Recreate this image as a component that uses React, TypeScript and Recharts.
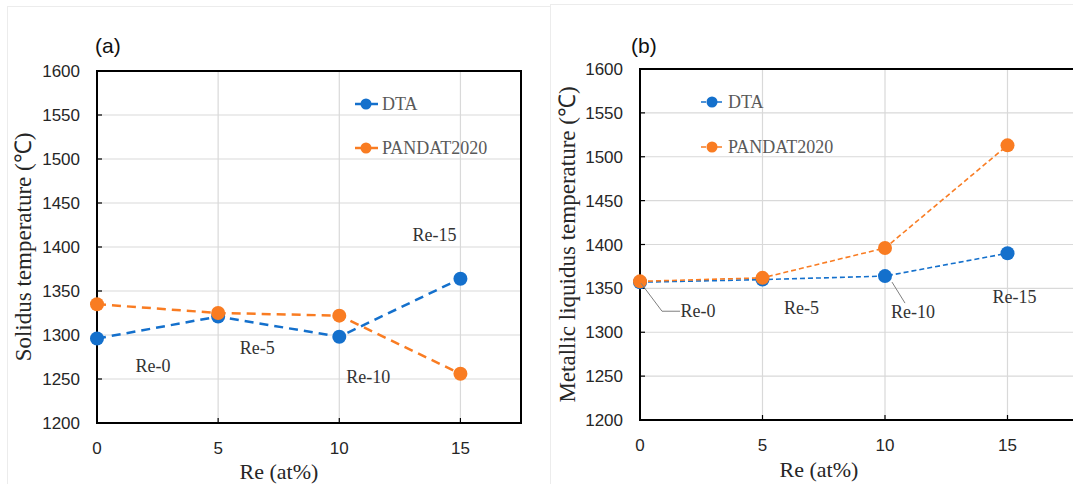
import React from 'react';
import { LineChart, Line, XAxis, YAxis, CartesianGrid, ReferenceArea, LabelList, Legend } from 'recharts';

// ---- data ----
const reContent = [0, 5, 10, 15];
const alloyNames = ['Re-0', 'Re-5', 'Re-10', 'Re-15'];
const solidusDTA = [1296, 1321, 1298, 1364];
const solidusPANDAT = [1335, 1325, 1322, 1256];
const liquidusDTA = [1357, 1360, 1364, 1390];
const liquidusPANDAT = [1358, 1362, 1396, 1513];
const xTicks = [0, 5, 10, 15];
const yTicks = [1200, 1250, 1300, 1350, 1400, 1450, 1500, 1550, 1600];
const seriesNames = ['DTA', 'PANDAT2020'];

const solidusData = reContent.map((re, i) => ({ re, dta: solidusDTA[i], pandat: solidusPANDAT[i], name: alloyNames[i] }));
const liquidusData = reContent.map((re, i) => ({ re, dta: liquidusDTA[i], pandat: liquidusPANDAT[i], name: alloyNames[i] }));

// ---- styles ----
const BLUE = '#1470CC';
const ORANGE = '#F97C22';
const COLORS = [BLUE, ORANGE];
const SERIF = "'Liberation Serif', 'Times New Roman', serif";
const SANS = "'Liberation Sans', Arial, sans-serif";

const leftLabelOffsets = [[56, 27], [39, 31], [29, 40], [-26, -44]];
const rightLabelOffsets = [[58, 29], [39, 28], [28, 36], [7, 44]];
const rightLeaders: (number[][] | null)[] = [[[1, 1], [22, 29], [40, 29]], null, [[7, 6], [20, 27]], null];

const makeLabel = (offsets: number[][], leaders?: (number[][] | null)[]) => (props: any) => {
  const { x, y, value } = props;
  const i = alloyNames.indexOf(value);
  if (i < 0 || x == null || y == null) return null;
  const [dx, dy] = offsets[i];
  const leader = leaders ? leaders[i] : null;
  return (
    <g>
      {leader && (
        <polyline
          points={leader.map(([a, b]) => `${x + a},${y + b}`).join(' ')}
          fill="none"
          stroke="#7f7f7f"
          strokeWidth={1}
        />
      )}
      <text x={x + dx} y={y + dy} textAnchor="middle" dominantBaseline="central" fontFamily={SERIF} fontSize={18} fill="#333">
        {value}
      </text>
    </g>
  );
};

const makeLegend = (dashed: boolean, rows: number[]) => () => (
  <svg width={200} height={80} style={{ overflow: 'visible', display: 'block' }}>
    {seriesNames.map((n, i) => (
      <g key={n}>
        <line x1={5} x2={28} y1={rows[i]} y2={rows[i]} stroke={COLORS[i]} strokeWidth={dashed ? 1.5 : 2.5} strokeDasharray={dashed ? '5 3' : undefined} />
        <circle cx={16} cy={rows[i]} r={5.5} fill={COLORS[i]} />
        <text x={32} y={rows[i]} dominantBaseline="central" fontFamily={SERIF} fontSize={18} fill="#595959">
          {n}
        </text>
      </g>
    ))}
  </svg>
);

const tickStyle = { fontFamily: SANS, fontSize: 17, fill: '#262626' };

export default function App() {
  return (
    <div style={{ position: 'absolute', left: 0, top: 0, width: 1073, height: 484, overflow: 'hidden', background: '#fff' }}>
      <div style={{ position: 'absolute', left: 7, top: 6, width: 542, height: 500, border: '1px solid #ececec' }} />
      <div style={{ position: 'absolute', left: 550, top: 4, width: 600, height: 500, border: '1px solid #ececec' }} />

      <div style={{ position: 'absolute', left: 95, top: 34, fontFamily: SANS, fontSize: 21, lineHeight: '24px', color: '#111' }}>(a)</div>
      <div style={{ position: 'absolute', left: 631, top: 34, fontFamily: SANS, fontSize: 21, lineHeight: '24px', color: '#111' }}>(b)</div>

      {/* Left chart: solidus */}
      <div style={{ position: 'absolute', left: 0, top: 0 }}>
        <LineChart width={540} height={484} data={solidusData} margin={{ top: 71, right: 19, bottom: 0, left: 13 }}>
          <CartesianGrid stroke="#d9d9d9" strokeWidth={1.2} />
          <XAxis
            dataKey="re"
            type="number"
            domain={[0, 17.5]}
            ticks={xTicks}
            height={61}
            tickSize={-5}
            tickMargin={24}
            tick={tickStyle}
            axisLine={{ stroke: '#000', strokeWidth: 2 }}
            tickLine={{ stroke: '#000', strokeWidth: 1.2 }}
            label={{ value: 'Re (at%)', position: 'insideBottom', offset: 5, dx: -30, style: { fontFamily: SERIF, fontSize: 22, fill: '#262626' } }}
          />
          <YAxis
            type="number"
            domain={[1200, 1600]}
            ticks={yTicks}
            width={84}
            tickSize={-5}
            tickMargin={22}
            tick={tickStyle}
            axisLine={{ stroke: '#000', strokeWidth: 2 }}
            tickLine={{ stroke: '#000', strokeWidth: 1.2 }}
            label={{ value: 'Solidus temperature (℃)', angle: -90, position: 'insideLeft', offset: 10, style: { textAnchor: 'middle', fontFamily: SERIF, fontSize: 23, fill: '#262626' } }}
          />
          <ReferenceArea x1={0} x2={17.5} y1={1200} y2={1600} fill="none" stroke="#000" strokeWidth={2} ifOverflow="visible" />
          <Legend layout="vertical" align="center" verticalAlign="middle" wrapperStyle={{ left: 350, top: 90, width: 200, height: 80 }} content={makeLegend(false, [14, 58])} />
          <Line
            name="DTA"
            dataKey="dta"
            type="linear"
            stroke={BLUE}
            strokeWidth={2.5}
            strokeDasharray="9 6"
            dot={{ r: 7, fill: BLUE, stroke: BLUE, strokeWidth: 0 }}
            activeDot={false}
            isAnimationActive={false}
          >
            <LabelList dataKey="name" content={makeLabel(leftLabelOffsets)} />
          </Line>
          <Line
            name="PANDAT2020"
            dataKey="pandat"
            type="linear"
            stroke={ORANGE}
            strokeWidth={2.5}
            strokeDasharray="9 6"
            dot={{ r: 7, fill: ORANGE, stroke: ORANGE, strokeWidth: 0 }}
            activeDot={false}
            isAnimationActive={false}
          />
        </LineChart>
      </div>

      {/* Right chart: metallic liquidus */}
      <div style={{ position: 'absolute', left: 540, top: 0 }}>
        <LineChart width={600} height={484} data={liquidusData} margin={{ top: 69, right: 10, bottom: 0, left: 17 }}>
          <CartesianGrid stroke="#d9d9d9" strokeWidth={1.2} />
          <XAxis
            dataKey="re"
            type="number"
            domain={[0, 20]}
            ticks={xTicks}
            height={64}
            tickSize={-5}
            tickMargin={24}
            tick={tickStyle}
            axisLine={{ stroke: '#000', strokeWidth: 2 }}
            tickLine={{ stroke: '#000', strokeWidth: 1.2 }}
            label={{ value: 'Re (at%)', position: 'insideBottom', offset: 7, dx: -66, style: { fontFamily: SERIF, fontSize: 22, fill: '#262626' } }}
          />
          <YAxis
            type="number"
            domain={[1200, 1600]}
            ticks={yTicks}
            width={83}
            tickSize={-5}
            tickMargin={22}
            tick={tickStyle}
            axisLine={{ stroke: '#000', strokeWidth: 2 }}
            tickLine={{ stroke: '#000', strokeWidth: 1.2 }}
            label={{ value: 'Metallic liquidus temperature (℃)', angle: -90, position: 'insideLeft', offset: 10, style: { textAnchor: 'middle', fontFamily: SERIF, fontSize: 23, fill: '#262626' } }}
          />
          <ReferenceArea x1={0} x2={20} y1={1200} y2={1600} fill="none" stroke="#000" strokeWidth={2} ifOverflow="visible" />
          <Legend layout="vertical" align="center" verticalAlign="middle" wrapperStyle={{ left: 156, top: 88, width: 200, height: 80 }} content={makeLegend(true, [14, 59])} />
          <Line
            name="DTA"
            dataKey="dta"
            type="linear"
            stroke={BLUE}
            strokeWidth={1.6}
            strokeDasharray="5 3"
            dot={{ r: 7, fill: BLUE, stroke: BLUE, strokeWidth: 0 }}
            activeDot={false}
            isAnimationActive={false}
          >
            <LabelList dataKey="name" content={makeLabel(rightLabelOffsets, rightLeaders)} />
          </Line>
          <Line
            name="PANDAT2020"
            dataKey="pandat"
            type="linear"
            stroke={ORANGE}
            strokeWidth={1.6}
            strokeDasharray="5 3"
            dot={{ r: 7, fill: ORANGE, stroke: ORANGE, strokeWidth: 0 }}
            activeDot={false}
            isAnimationActive={false}
          />
        </LineChart>
      </div>
    </div>
  );
}
